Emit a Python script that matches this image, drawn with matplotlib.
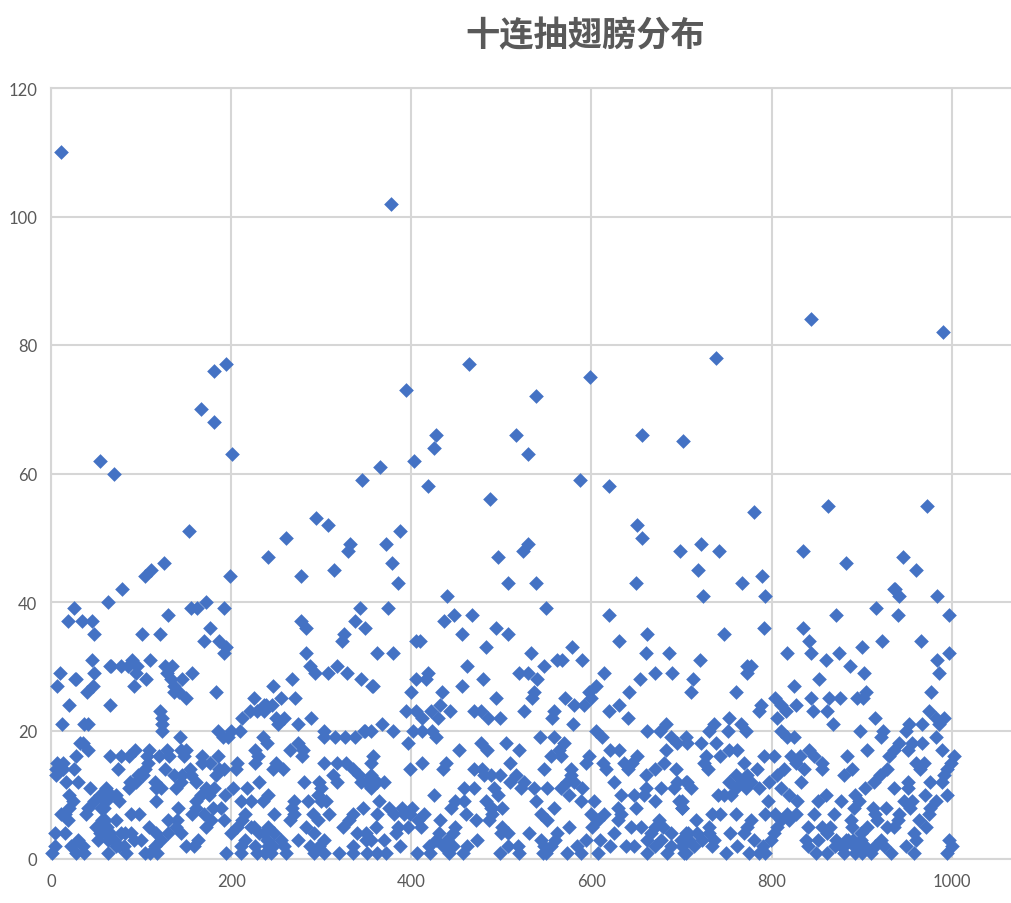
import matplotlib
matplotlib.use("Agg")
import matplotlib.pyplot as plt

TITLE = "十连抽翅膀分布"
x_ticks = [0, 200, 400, 600, 800, 1000]
y_ticks = [0, 20, 40, 60, 80, 100, 120]

# sparse upper points
x_high = [11,377,844,990,738,194,181,464,598,394,538,167,181,427,516,656,702,425,201,529,54,403,365,70,345,587,418,619,487,863,973,780,294,307,651,153,387,656,261,332,372,529,722,330,524,698,742,835,241,496,946,125,378,882,111,314,718,960,104,199,278,789,385,507,538,649,767,79,937,440,724,793,941,984,936]
y_high = [110,102,84,82,78,77,76,77,75,73,72,70,68,66,66,66,65,64,63,63,62,62,61,60,59,59,58,58,56,55,55,54,53,52,52,51,51,50,50,49,49,49,49,48,48,48,48,48,47,47,47,46,46,46,45,45,45,45,44,44,44,44,43,43,43,43,43,42,42,41,41,41,41,41,42]

# points at each integer level
at_40 = [63,172]
at_39 = [25,155,162,192,343,374,549,916]
at_38 = [130,447,467,620,871,940,997]
at_37 = [19,34,45,278,338,436]
at_36 = [283,176,349,494,791,835]
at_35 = [48,101,121,325,456,507,662,747]
at_34 = [170,187,323,405,410,631,842,922,966]
at_33 = [194,483,578,900]
at_32 = [192,283,362,380,533,660,686,817,844,875,997]
at_31 = [45,90,110,562,589,720,860,984,567]
at_30 = [67,66,78,85,95,127,134,287,317,462,547,773,887,777]
at_29 = [10,48,94,129,157,293,307,329,418,520,530,614,670,689,902,986,773]
at_28 = [27,28,105,133,145,268,344,405,416,480,540,654,713,853]
at_27 = [7,47,92,136,247,358,356,456,605,825]
at_26 = [40,136,142,183,400,434,536,597,642,711,760,905,977]
at_25 = [150,225,255,271,494,534,571,599,804,844,864,876,895,901]
at_24 = [20,65,236,432,581,592,631,788,810,827,239,245]
at_23 = [121,221,229,236,394,405,422,443,470,477,525,558,620,786,816,846,862,975]
at_22 = [123,212,250,259,289,430,485,498,556,640,753,806,915,982,991,412]
at_21 = [12,37,41,252,274,367,580,683,736,766,868,952,967,986,123]
at_20 = [123,185,200,210,303,349,355,380,402,412,423,605,662,676,731,751,771,810,898,924,949,348]
at_19 = [143,235,303,315,326,337,427,543,558,612,688,705,817,825,921,982,191,197]
at_18 = [32,274,396,477,505,569,695,706,722,738,941,956,967,36,240]
at_17 = [41,93,109,129,150,226,265,453,484,520,564,621,631,683,753,762,841,906,936,951,989,144,280]
at_16 = [28,65,78,87,107,131,148,185,230,279,358,555,566,597,651,727,743,791,803,821,832,847,884,930,1002,120,168]
at_15 = [7,168,207,226,250,303,318,328,355,412,438,510,594,613,636,645,681,725,769,827,856,960,969,999,13,108,176]
at_14 = [6,26,74,104,126,154,187,205,246,257,335,398,435,470,479,547,577,616,640,670,694,729,784,814,836,856,889,928,965,995,13,192]
at_13 = [6,102,137,155,183,313,355,481,488,499,516,577,660,760,773,806,880,920,991,97,145,342]
at_12 = [17,30,94,144,161,231,281,298,318,344,353,350,362,370,509,525,573,581,625,695,706,705,753,767,777,797,833,914,951,976,989,88,116]
at_11 = [43,61,87,117,139,172,181,202,218,355,459,470,492,522,536,551,566,590,660,677,692,710,760,771,786,810,904,936,951,122,300]
at_10 = [20,54,67,167,193,241,296,425,496,575,633,647,658,740,747,755,819,893,970,995,72,175,860]
at_9 = [48,61,76,117,161,211,222,235,270,285,305,364,449,459,483,538,588,603,670,697,701,796,828,851,877,897,947,956,982,24,300]
at_8 = [20,41,59,141,161,189,268,346,375,390,401,444,488,501,558,629,649,700,701,891,912,927,954,976,55,180,490]
at_7 = [11,39,89,98,170,215,248,270,291,309,335,362,381,392,399,414,461,490,544,599,614,633,734,743,760,793,804,817,827,847,869,915,941,975,16,156]
at_6 = [19,57,72,130,178,192,265,296,331,407,432,472,486,551,607,629,675,716,777,810,819,888,917,940,964,212,140,60]
at_5 = [50,109,139,172,207,222,241,283,324,361,396,411,449,501,575,601,644,655,670,679,730,773,806,840,856,865,889,906,928,936,971,56,62,225,385]
at_4 = [4,15,54,78,89,117,130,144,200,231,248,292,340,350,383,431,446,507,531,562,625,666,688,707,705,717,730,754,769,803,862,899,958,60,66,82,237,500]
at_3 = [30,52,63,100,122,163,215,255,274,303,350,355,370,427,473,544,559,594,662,677,699,708,723,736,780,799,838,851,871,882,899,921,960,997,70,92,240,440,610,885,890]
at_2 = [4,22,35,72,81,115,150,159,211,226,241,259,287,298,335,387,420,435,446,462,507,518,547,584,621,638,647,670,688,701,714,734,762,790,840,877,891,904,925,949,1000,76,246,555,870,880,895,915]
at_1 = [1,28,37,63,83,104,118,194,211,229,244,261,292,303,320,335,351,362,372,406,421,442,457,499,520,546,573,588,607,662,684,705,703,749,775,786,793,849,862,893,910,932,958,995,110,238,550,880,900]

levels = {40:at_40,39:at_39,38:at_38,37:at_37,36:at_36,35:at_35,34:at_34,33:at_33,32:at_32,31:at_31,
          30:at_30,29:at_29,28:at_28,27:at_27,26:at_26,25:at_25,24:at_24,23:at_23,22:at_22,21:at_21,
          20:at_20,19:at_19,18:at_18,17:at_17,16:at_16,15:at_15,14:at_14,13:at_13,12:at_12,11:at_11,
          10:at_10,9:at_9,8:at_8,7:at_7,6:at_6,5:at_5,4:at_4,3:at_3,2:at_2,1:at_1}

plt.rcParams['font.family'] = ['Noto Sans CJK SC', 'DejaVu Sans']
W, H = 1012, 904
fig = plt.figure(figsize=(W/100, H/100), dpi=100, facecolor='white')
L, R, T, B = 51, 1012, 89, 860
ax = fig.add_axes([L/W, 1-B/H, (R-L)/W, (B-T)/H])
ax.set_xlim(0, (R-L)/0.9008)
ax.set_ylim(0, 120)
GRID = '#D6D6D6'
ax.set_axisbelow(True)
ax.grid(True, color=GRID, linewidth=1.5)
for s in ax.spines.values():
    s.set_visible(False)
for side in ('left', 'bottom', 'top'):
    ax.spines[side].set_visible(True)
    ax.spines[side].set_color(GRID)
    ax.spines[side].set_linewidth(1.5)
ax.set_xticks(x_ticks); ax.set_yticks(y_ticks)
ax.tick_params(length=0, labelsize=12, labelcolor='#595959', pad=10)
for lab in ax.get_xticklabels() + ax.get_yticklabels():
    lab.set_family(['Lato', 'DejaVu Sans'])

style = dict(marker='D', s=56, color='#4472C4', linewidths=0, clip_on=False, zorder=3)
ax.scatter(x_high, y_high, **style)
for lvl, xs in levels.items():
    ax.scatter(xs, [lvl]*len(xs), **style)

fig.text(585/W, 1-36/H, TITLE, fontsize=24.7, fontweight='bold', color='#595959', ha='center', va='center')
fig.savefig('out.png', dpi=100)
